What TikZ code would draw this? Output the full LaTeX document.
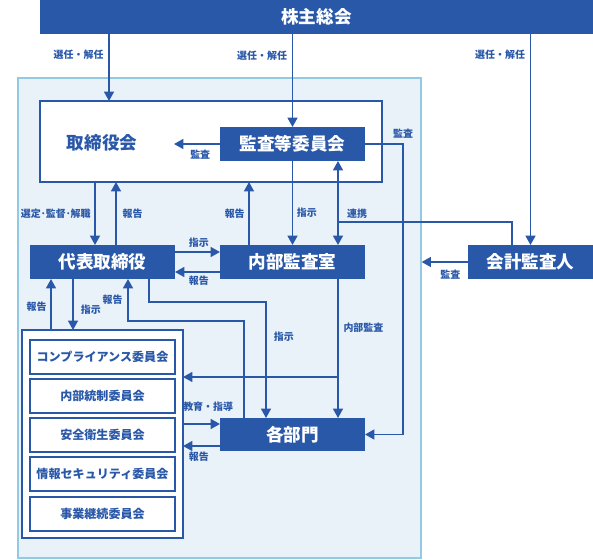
\documentclass[tikz,border=0pt]{standalone}
\usepackage{fontspec}
\setmainfont{Noto Sans CJK JP}
\usetikzlibrary{arrows.meta}

\definecolor{boxblue}{RGB}{42,88,168}
\definecolor{areafill}{RGB}{234,242,249}
\definecolor{areaedge}{RGB}{146,201,227}

\tikzset{
  darkbox/.style={fill=boxblue, text=white, font=\bfseries\fontsize{15}{18}\selectfont,
    minimum width=4.35cm, minimum height=1.02cm, inner sep=0pt, outer sep=0pt},
  cttbox/.style={draw=boxblue, fill=white, line width=1.4pt, text=boxblue,
    font=\bfseries\fontsize{10.3}{12}\selectfont,
    minimum width=4.35cm, minimum height=1.02cm, inner sep=0pt, outer sep=0pt},
  lbl/.style={text=boxblue, font=\bfseries\fontsize{8.5}{10}\selectfont, inner sep=1pt},
  arr/.style={-{Triangle[length=8pt,width=8.5pt]}},
  arrs/.style={{Triangle[length=8pt,width=8.5pt]}-{Triangle[length=8pt,width=8.5pt]}},
}

\begin{document}
\begin{tikzpicture}[x=0.03cm, y=-0.03cm, boxblue, line width=1.4pt]
\useasboundingbox (0,0) rectangle (593,559);

% Company frame --------------------------------------
\node[draw=areaedge, fill=areafill, line width=1pt, minimum width=12.09cm,
  minimum height=14.4cm, inner sep=0pt] (area) at (219.5,318) {};

% Boxes ----------------------------------------------
\node[darkbox, minimum width=16.59cm] (soukai) at (316.5,17) {株主総会};
\node[draw=boxblue, fill=white, minimum width=10.26cm, minimum height=2.43cm,
  inner sep=0pt, outer sep=0pt] (board) at (211,141.5) {};
\node[text=boxblue, font=\bfseries\fontsize{15}{18}\selectfont] (boardtxt) at (102,143) {取締役会};
\node[darkbox] (kansa) at (292.5,144) {監査等委員会};
\node[darkbox] (ceo) at (102.5,262) {代表取締役};
\node[darkbox] (naibu) at (292.5,262) {内部監査室};
\node[darkbox, minimum width=3.75cm] (auditor) at (530.5,262) {会計監査人};
\node[darkbox, minimum height=0.99cm] (bumon) at (292.5,434.5) {各部門};

% Committees -----------------------------------------
\node[draw=boxblue, fill=white, minimum width=4.83cm, minimum height=6.24cm,
  inner sep=0pt, outer sep=0pt] (group) at (102.5,434) {};
\foreach \name/\txt/\y in {c1/コンプライアンス委員会/357, c2/内部統制委員会/396,
    c3/安全衛生委員会/435, c4/情報セキュリティ委員会/474, c5/事業継続委員会/514}
  \node[cttbox] (\name) at (102.5,\y) {\txt};

% Lanes ----------------------------------------------
\coordinate (xa) at (109,0);
\coordinate (xd) at (403,0);
\coordinate (xe) at (95,0);
\coordinate (xf) at (116,0);
\coordinate (xg) at (249,0);
\coordinate (xh) at (338,0);
\coordinate (xl) at (73,0);
\coordinate (xm) at (51,0);
\coordinate (xo) at (128,0);
\coordinate (xq) at (266,0);
\coordinate (ys) at (0,252);
\coordinate (yr) at (0,272);
\coordinate (yk) at (0,424);
\coordinate (yh) at (0,446);
\coordinate (kstop) at (174,144);
\coordinate (rk) at (512,222);
\coordinate (rkend) at (338,222);
\coordinate (hk) at (244,321);
\coordinate (sj) at (149,302);
\coordinate (nb) at (338,377);

% General meeting ------------------------------------
\draw[arr] (soukai.south -| xa) -- node[lbl, left=3pt, pos=.31] (l1) {選任・解任} (board.north -| xa);
\draw[arr] (soukai.south -| kansa) -- node[lbl, left=3pt, pos=.23] (l2) {選任・解任} (kansa.north);
\draw[arr] (soukai.south -| auditor) -- node[lbl, left=3pt, pos=.10] (l3) {選任・解任} (auditor.north);

% Audit committee ------------------------------------
\draw[arr] (kansa.west) -- node[lbl, below=3pt, pos=.43] (l4) {監査} (kstop);
\draw[arr] (kansa.east) -- (kansa.east -| xd) node[lbl, above=3pt] (l5) {監査} |- (bumon.east);
\draw[arr] (kansa.south) -- node[lbl, right=2pt, pos=.62] (l6) {指示} (naibu.north);
\draw[arrs] (kansa.south -| xh) -- (naibu.north -| xh);
\draw (auditor.north -| rk) -- (rk) -- node[lbl, above=1pt, pos=.89] (l7) {連携} (rkend);

% Board and CEO --------------------------------------
\draw[arr] (board.south -| xe) -- node[lbl, left=2pt, pos=.51] (l8) {選定･監督･解職} (ceo.north -| xe);
\draw[arr] (ceo.north -| xf) -- node[lbl, right=4pt, pos=.49] (l9) {報告} (board.south -| xf);
\draw[arr] (naibu.north -| xg) -- node[lbl, left=2pt, pos=.49] (l10) {報告} (board.south -| xg);

% CEO and internal audit -----------------------------
\draw[arr] (ceo.east |- ys) -- node[lbl, above=2pt, pos=.53] (l11) {指示} (naibu.west |- ys);
\draw[arr] (naibu.west |- yr) -- node[lbl, below=2pt, pos=.47] (l12) {報告} (ceo.east |- yr);
\draw[arr] (auditor.west) -- node[lbl, below=5pt, pos=.38] (l13) {監査} (auditor.west -| area.east);

% CEO and committees ---------------------------------
\draw[arr] (ceo.south -| xl) -- node[lbl, right=5pt, pos=.6] (l14) {指示} (group.north -| xl);
\draw[arr] (group.north -| xm) -- node[lbl, left=2pt, pos=.45] (l15) {報告} (ceo.south -| xm);

% Departments ----------------------------------------
\draw[arr] (bumon.north -| hk) -- (hk) -| node[lbl, left=3pt, pos=.75] (l16) {報告} (ceo.south -| xo);
\draw[arr] (ceo.south -| sj) -- (sj) -| node[lbl, right=5pt, pos=.65] (l17) {指示} (bumon.north -| xq);
\draw[arr] (naibu.south -| xh) -- node[lbl, right=3pt, pos=.35] (l18) {内部監査} (bumon.north -| xh);
\draw[arr] (nb) -- (group.east |- nb);
\draw[arr] (group.east |- yk) -- node[lbl, above=9pt, pos=.68] (l19) {教育・指導} (bumon.west |- yk);
\draw[arr] (bumon.west |- yh) -- node[lbl, below=3pt, pos=.57] (l20) {報告} (group.east |- yh);

\end{tikzpicture}
\end{document}
